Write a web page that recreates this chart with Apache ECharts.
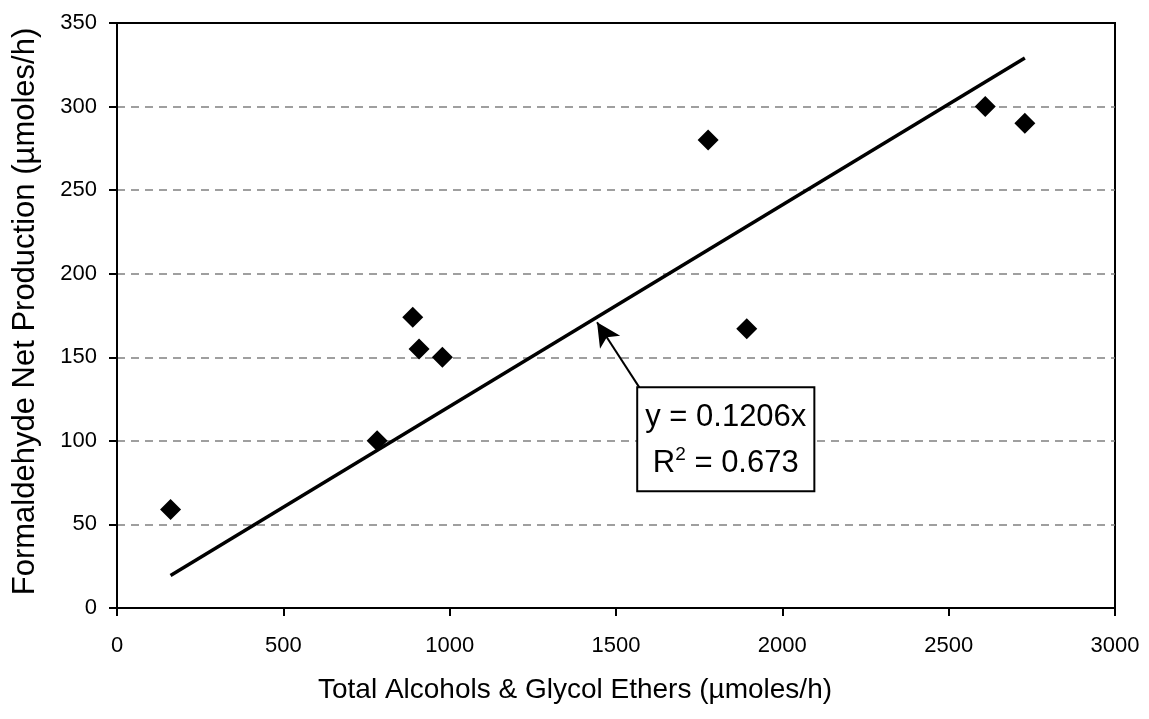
<!DOCTYPE html>
<html>
<head>
<meta charset="utf-8">
<script src="https://cdn.jsdelivr.net/npm/echarts@6/dist/echarts.min.js"></script>
<style>
  html, body { margin: 0; padding: 0; background: #fff; }
  #chart { width: 1149px; height: 719px; }
</style>
</head>
<body>
<div id="chart"></div>
<script>
// Measured samples: total alcohols & glycol ethers vs formaldehyde net production
const alcohols = [161, 782, 889, 908, 978, 1777, 1893, 2610, 2729];
const formaldehyde = [59, 100, 174, 155, 150, 280, 167, 300, 290];

// Linear fit through the origin
const slope = 0.1206;
const rSquared = 0.673;

// Axis ticks
const xTicks = [0, 500, 1000, 1500, 2000, 2500, 3000];
const yTicks = [0, 50, 100, 150, 200, 250, 300, 350];

// Callout anchor (box corner) and arrow tip, plus box centre, in data units
const arrowFrom = [1570, 132];
const arrowTo = [1443, 171];
const calloutAt = [1830, 101];

const xMin = Math.min(...alcohols);
const xMax = Math.max(...alcohols);
const fitLine = [[xMin, slope * xMin], [xMax, slope * xMax]];

const font = 'Liberation Sans, Arial, sans-serif';

const chart = echarts.init(document.getElementById('chart'), null, { renderer: 'canvas' });

chart.setOption({
  animation: false,
  backgroundColor: '#fff',
  grid: {
    left: 117, right: 34, top: 23, bottom: 111,
    show: true, borderColor: '#000', borderWidth: 2, backgroundColor: 'transparent'
  },
  xAxis: {
    type: 'value',
    min: xTicks[0], max: xTicks[xTicks.length - 1], interval: xTicks[1] - xTicks[0],
    name: 'Total Alcohols & Glycol Ethers (µmoles/h)',
    nameLocation: 'middle', nameGap: 68,
    // title sits a little left of the plot centre
    nameTextStyle: { fontFamily: font, fontSize: 28, color: '#000', padding: [0, 82, 0, 0] },
    axisLine: { lineStyle: { color: '#000', width: 2 } },
    axisTick: { show: true, inside: false, length: 8, lineStyle: { color: '#000', width: 2 } },
    axisLabel: { fontFamily: font, fontSize: 22, color: '#000', margin: 27, formatter: v => String(v) },
    splitLine: { show: false }
  },
  yAxis: {
    type: 'value',
    min: yTicks[0], max: yTicks[yTicks.length - 1], interval: yTicks[1] - yTicks[0],
    name: 'Formaldehyde Net Production (µmoles/h)',
    nameLocation: 'middle', nameGap: 76,
    nameTextStyle: { fontFamily: font, fontSize: 31, color: '#000', padding: [0, 0, 0, 8] },
    axisLine: { show: true, lineStyle: { color: '#000', width: 2 } },
    axisTick: { show: true, inside: false, length: 8, lineStyle: { color: '#000', width: 2 } },
    axisLabel: { fontFamily: font, fontSize: 22, color: '#000', margin: 20, formatter: v => String(v) },
    splitLine: {
      show: true, showMinLine: false, showMaxLine: false,
      lineStyle: { color: '#808080', width: 1.5, type: [8, 6] }
    }
  },
  series: [
    {
      name: 'Fit',
      type: 'line',
      data: fitLine,
      symbol: 'none',
      lineStyle: { color: '#000', width: 3.5 },
      z: 3,
      markLine: {
        silent: true,
        symbol: ['none', 'arrow'],
        symbolSize: [18, 24],
        label: { show: false },
        lineStyle: { color: '#000', width: 2, type: 'solid', opacity: 1 },
        data: [[{ coord: arrowFrom }, { coord: arrowTo }]]
      }
    },
    {
      name: 'Samples',
      type: 'scatter',
      data: alcohols.map((x, i) => [x, formaldehyde[i]]),
      symbol: 'diamond',
      symbolSize: 21,
      itemStyle: { color: '#000', opacity: 1 },
      z: 4
    },
    {
      name: 'Equation',
      type: 'scatter',
      data: [calloutAt],
      symbolSize: 0,
      silent: true,
      itemStyle: { opacity: 1 },
      z: 5,
      label: {
        show: true,
        position: 'inside',
        backgroundColor: '#fff',
        borderColor: '#000',
        borderWidth: 2,
        padding: [6, 7, 4, 7],
        align: 'center',
        verticalAlign: 'middle',
        opacity: 1,
        formatter: 'y = ' + slope + 'x\n{b|R}{sup|2}{b| = ' + rSquared + '}',
        fontFamily: font,
        fontSize: 31,
        lineHeight: 46,
        color: '#000',
        rich: {
          b: { fontFamily: font, fontSize: 31, lineHeight: 46, color: '#000' },
          sup: { fontFamily: font, fontSize: 19, lineHeight: 46, color: '#000', padding: [0, 0, 16, 0] }
        }
      }
    }
  ]
});
</script>
</body>
</html>
